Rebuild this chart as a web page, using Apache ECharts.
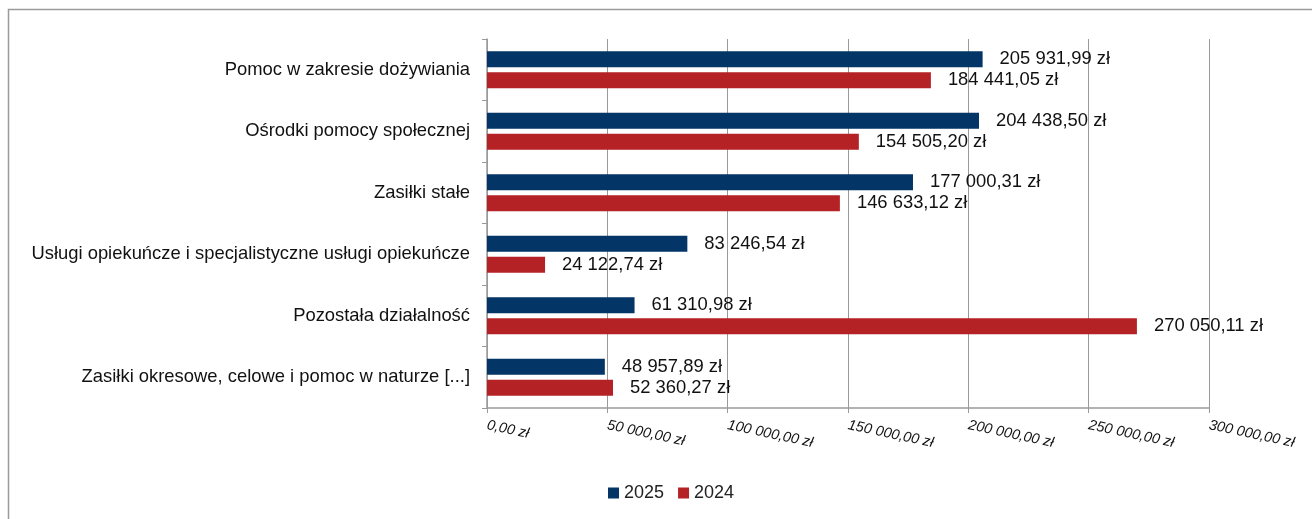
<!DOCTYPE html>
<html><head><meta charset="utf-8">
<script src="https://cdn.jsdelivr.net/npm/echarts@6/dist/echarts.min.js"></script>
<style>html,body{margin:0;padding:0;background:#fff}#c{width:1312px;height:519px}</style>
</head><body><div id="c"></div>
<script>
const categories = [
  'Pomoc w zakresie dożywiania',
  'Ośrodki pomocy społecznej',
  'Zasiłki stałe',
  'Usługi opiekuńcze i specjalistyczne usługi opiekuńcze',
  'Pozostała działalność',
  'Zasiłki okresowe, celowe i pomoc w naturze [...]'
];
const values2025 = [205931.99, 204438.50, 177000.31, 83246.54, 61310.98, 48957.89];
const values2024 = [184441.05, 154505.20, 146633.12, 24122.74, 270050.11, 52360.27];
const seriesNames = ['2025', '2024'];

function fmt(v) {
  const s = Number(v).toFixed(2);
  const [i, d] = s.split('.');
  return i.replace(/\B(?=(\d{3})+(?!\d))/g, ' ') + ',' + d + ' zł';
}
const FONT = "'Liberation Sans', Arial, sans-serif";
const chart = echarts.init(document.getElementById('c'));
chart.setOption({
  animation: false,
  textStyle: { fontFamily: FONT },
  graphic: [{
    type: 'rect', shape: { x: 8.5, y: 9.5, width: 1400, height: 600 },
    style: { fill: 'none', stroke: '#9a9a9a', lineWidth: 1.5 }, silent: true, z: -1
  }],
  legend: {
    top: 479, left: 603, itemWidth: 11, itemHeight: 11, itemGap: 14,
    icon: 'rect', textStyle: { fontSize: 18, color: '#222', fontFamily: FONT },
    data: seriesNames
  },
  grid: { left: 487, right: 103, top: 39, bottom: 111, containLabel: false },
  xAxis: {
    type: 'value', min: 0, max: 300000, interval: 50000,
    axisLine: { show: true, lineStyle: { color: '#9a9a9a', width: 1.5 } },
    axisTick: { show: true, length: 5, lineStyle: { color: '#9a9a9a' } },
    splitLine: { show: true, lineStyle: { color: '#9a9a9a', width: 1 } },
    axisLabel: {
      rotate: -12, margin: 17, fontSize: 14.5, fontStyle: 'italic', color: '#111',
      fontFamily: FONT, formatter: fmt, showMaxLabel: true
    }
  },
  yAxis: {
    type: 'category', data: categories, inverse: true,
    axisLine: { show: true, lineStyle: { color: '#9a9a9a', width: 1.5 } },
    axisTick: { show: true, length: 5, lineStyle: { color: '#9a9a9a' } },
    axisLabel: { fontSize: 18.4, color: '#111', margin: 17, fontFamily: FONT }
  },
  series: [
    {
      name: seriesNames[0], type: 'bar', data: values2025, barWidth: 16, barGap: '30%',
      itemStyle: { color: '#033566' },
      label: { show: true, position: 'right', distance: 17, fontSize: 18.4, color: '#111', fontFamily: FONT,
        formatter: p => fmt(p.value) }
    },
    {
      name: seriesNames[1], type: 'bar', data: values2024, barWidth: 16, barGap: '30%',
      itemStyle: { color: '#B52226' },
      label: { show: true, position: 'right', distance: 17, fontSize: 18.4, color: '#111', fontFamily: FONT,
        formatter: p => fmt(p.value) }
    }
  ]
});
</script></body></html>
